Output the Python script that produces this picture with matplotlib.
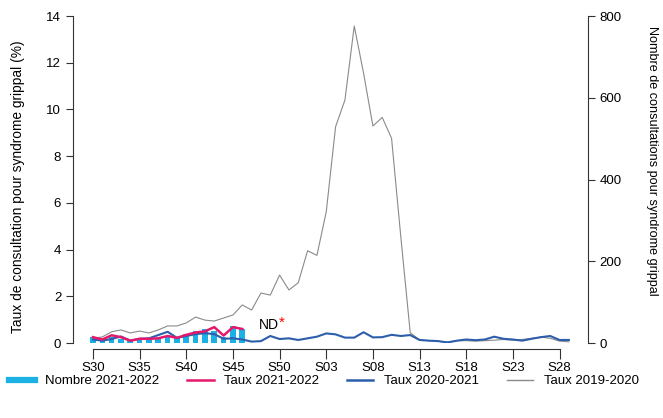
import matplotlib
matplotlib.use('Agg')
import matplotlib.pyplot as plt
from matplotlib.lines import Line2D
import numpy as np

plt.rcParams['font.family'] = ['Liberation Sans', 'DejaVu Sans']

# semaines S30 -> S29
semaines = list(range(30, 53)) + list(range(1, 30))
labels = ['S%02d' % s for s in semaines]

# Nombre 2021-2022 (axe droit)
nombre_2122 = [15, 8, 15, 10, 5, 10, 10, 10, 16, 12, 22, 29, 35, 29, 14, 41, 35]
# Taux (%) axe gauche
taux_2122 = [0.25, 0.15, 0.33, 0.25, 0.1, 0.18, 0.18, 0.2, 0.3, 0.22, 0.35,
             0.45, 0.5, 0.68, 0.32, 0.68, 0.6]
taux_2021 = [0.15, 0.1, 0.17, 0.28, 0.1, 0.18, 0.2, 0.34, 0.48, 0.22, 0.3,
             0.38, 0.42, 0.38, 0.18, 0.2, 0.15, 0.06, 0.08, 0.3, 0.17, 0.2,
             0.13, 0.2, 0.27, 0.41, 0.37, 0.23, 0.23, 0.46, 0.24, 0.25, 0.35,
             0.3, 0.34, 0.13, 0.1, 0.08, 0.02, 0.1, 0.15, 0.12, 0.15, 0.27,
             0.18, 0.15, 0.1, 0.18, 0.25, 0.3, 0.13, 0.13]
taux_1920 = [0.2, 0.26, 0.48, 0.56, 0.43, 0.51, 0.43, 0.56, 0.73, 0.73, 0.86,
             1.11, 0.98, 0.94, 1.07, 1.2, 1.63, 1.41, 2.14, 2.05, 2.91, 2.27,
             2.58, 3.95, 3.75, 5.62, 9.26, 10.4, 13.57, 11.55, 9.29, 9.66, 8.76,
             4.5, 0.44, 0.13, 0.1, 0.08, 0.05, 0.1, 0.1, 0.08, 0.1, 0.12, 0.15,
             0.12, 0.15, 0.2, 0.25, 0.2, 0.08, 0.05]

c_bar = '#1cb1e4'
c_red = '#e5196b'
c_blue = '#2c5eab'
c_grey = '#8a8a8a'

fig = plt.figure(figsize=(6.63, 4.18), dpi=100)
ax = fig.add_axes([73/663, 75/418, 515/663, 327/418])
ax2 = ax.twinx()

x_all = np.arange(len(semaines))
ax2.bar(np.arange(len(nombre_2122)), nombre_2122, width=0.6, color=c_bar)

ax.plot(x_all, taux_1920, color=c_grey, lw=0.8)
ax.plot(x_all[:len(taux_2021)], taux_2021, color=c_blue, lw=1.5)
ax.plot(np.arange(len(taux_2122)), taux_2122, color=c_red, lw=1.8)

# lignes au-dessus des barres
ax.set_zorder(ax2.get_zorder() + 1)
ax.patch.set_visible(False)

ax.set_xlim(-2.14, 53.05)
ax.set_ylim(0, 14)
ax2.set_ylim(0, 800)

ax.text(19.9, 0.75, 'ND', ha='right', va='center', fontsize=10)
ax.text(19.9, 0.88, '*', ha='left', va='center', fontsize=11, color='red')

# axes style R
for a in (ax, ax2):
    a.spines['top'].set_visible(False)
ax.spines['right'].set_visible(False)
ax2.spines['left'].set_visible(False)
ax2.spines['bottom'].set_visible(False)
ax.spines['left'].set_bounds(0, 14)
ax2.spines['right'].set_bounds(0, 800)
ax.spines['bottom'].set_position(('outward', 4))
ax.spines['bottom'].set_bounds(0, 50)
for a in (ax, ax2):
    for s in a.spines.values():
        s.set_color('#333333')
        s.set_linewidth(0.8)

ticks = list(range(0, 51, 5))
ax.set_xticks(ticks)
ax.set_xticklabels([labels[t] for t in ticks])
ax.set_yticks(range(0, 15, 2))
ax2.set_yticks(range(0, 801, 200))
ax.tick_params(axis='both', labelsize=9.5, length=5, width=0.8, color='#333333')
ax2.tick_params(axis='y', labelsize=9.5, length=5, width=0.8, color='#333333')
ax.tick_params(axis='x', length=7, pad=3)

ax.set_ylabel('Taux de consultation pour syndrome grippal (%)', fontsize=9.9,
              va='center')
ax.yaxis.set_label_coords(-0.107, 0.477)
ax2.set_ylabel('Nombre de consultations pour syndrome grippal', fontsize=9.1,
               rotation=270, va='center')
ax2.yaxis.set_label_coords(1.124, 0.557)

handles = [Line2D([], [], color=c_bar, lw=4.5),
           Line2D([], [], color=c_red, lw=1.8),
           Line2D([], [], color=c_blue, lw=1.8),
           Line2D([], [], color=c_grey, lw=1.0)]
noms = ['Nombre 2021-2022', 'Taux 2021-2022', 'Taux 2020-2021', 'Taux 2019-2020']
fig.legend(handles, noms, loc='center', bbox_to_anchor=(0.488, 37/418), ncol=4,
           frameon=False, fontsize=9.5, handlelength=2.0, columnspacing=2.1,
           handletextpad=0.8)

fig.savefig('out.png', dpi=100)
